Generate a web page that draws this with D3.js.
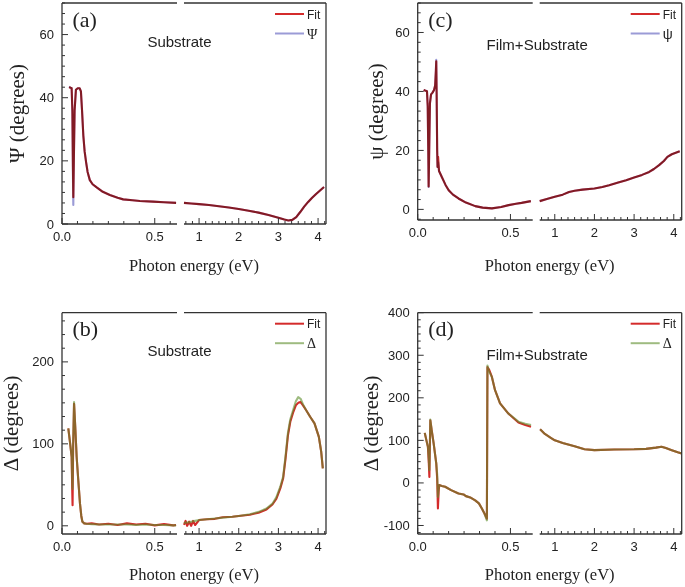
<!DOCTYPE html>
<html><head><meta charset="utf-8">
<script src="https://cdn.jsdelivr.net/npm/d3@7"></script>
<style>body{margin:0;background:#fff}svg{display:block}</style>
</head><body>
<svg id="chart" width="685" height="587"></svg>
<script>
// ---------- axis ranges / tick labels ----------
const leftRange = [0, 0.62];
const rightRange = [0.62, 4.2];
const leftMajorTicks = [0, 0.5];
const rightMajorTicks = [1, 2, 3, 4];
const psiTicks = [0, 20, 40, 60];
const deltaSubTicks = [0, 100, 200];
const deltaFilmTicks = [-100, 0, 100, 200, 300, 400];

// ---------- (a) Psi, substrate ----------
const aLeftE   = [0.038,0.045,0.052,0.056,0.059,0.061,0.064,0.068,0.075,0.085,0.095,0.102,0.108,0.115,0.122,0.13,0.138,0.15,0.165,0.187,0.22,0.258,0.3,0.33,0.38,0.42,0.49,0.55,0.615];
const aLeftPsi = [43.5,43.2,43.0,35,15,6,20,36,42.5,43,43,42,36,28,23,19.5,16.5,13.9,12.6,11.6,10.2,9.2,8.3,7.8,7.5,7.3,7.1,6.9,6.7];
const aLeftFit = [43.3,43.2,43.0,36,18,8.5,21,36,42.5,43,43,42,36,28,23,19.5,16.5,13.9,12.6,11.6,10.2,9.2,8.3,7.8,7.5,7.3,7.1,6.9,6.7];
const aRightE   = [0.62,0.8,1.0,1.25,1.5,1.75,2.0,2.25,2.5,2.75,3.0,3.15,3.25,3.35,3.45,3.55,3.65,3.75,3.85,3.95,4.05,4.15];
const aRightPsi = [6.7,6.5,6.3,6.0,5.6,5.2,4.75,4.2,3.6,2.85,2.0,1.4,1.1,1.3,2.2,3.8,5.5,7.0,8.3,9.5,10.6,11.7];
const aRightFit = [6.7,6.5,6.3,6.0,5.6,5.2,4.75,4.2,3.6,2.85,2.0,1.4,1.1,1.3,2.2,3.8,5.5,7.0,8.3,9.5,10.6,11.7];

// ---------- (c) psi, film + substrate ----------
const cLeftE   = [0.032,0.04,0.05,0.054,0.057,0.059,0.062,0.066,0.072,0.08,0.088,0.094,0.098,0.1,0.102,0.105,0.107,0.11,0.115,0.13,0.15,0.167,0.19,0.22,0.26,0.31,0.35,0.4,0.45,0.49,0.53,0.56,0.61];
const cLeftPsi = [40.5,40.3,40.1,35,20,7.6,20,36,39,39.6,40.5,42,47,50.7,40,20,14.4,16,13,11,8.3,6.5,5,3.7,2.3,1.1,0.6,0.35,0.8,1.45,1.9,2.2,2.8];
const cLeftFit = [40.5,40.3,40.1,35,20,7.8,20,36,39,39.6,40.5,42,47,50.2,40,20,14.4,17.8,13,11,8.3,6.5,5,3.7,2.3,1.1,0.6,0.35,0.8,1.45,1.9,2.2,2.8];
const cRightE   = [0.62,0.8,1.0,1.2,1.36,1.5,1.7,2.0,2.2,2.37,2.6,2.8,3.0,3.2,3.38,3.5,3.63,3.75,3.84,3.95,4.05,4.15];
const cRightPsi = [2.8,3.5,4.3,5.0,5.9,6.3,6.7,7.1,7.6,8.2,9.1,9.9,10.8,11.7,12.7,13.7,15.0,16.4,17.8,18.7,19.2,19.7];
const cRightFit = [2.8,3.5,4.3,5.0,5.9,6.3,6.7,7.1,7.6,8.2,9.1,9.9,10.8,11.7,12.7,13.7,15.0,16.4,17.8,18.7,19.2,19.7];

// ---------- (b) Delta, substrate ----------
const bLeftE     = [0.034,0.043,0.052,0.055,0.057,0.06,0.065,0.072,0.079,0.088,0.097,0.104,0.11,0.12,0.133,0.16,0.2,0.25,0.3,0.35,0.4,0.45,0.5,0.55,0.6,0.615];
const bLeftDelta = [118.8,102,84,55,45,100,151,118,84,55,27,12,5,3,2.5,2,1.5,1.5,1.5,1.5,1,1.5,1,1,0.5,0.5];
const bLeftFit   = [118.8,102,84,45,25,95,149,118,84,55,27,12,5,3,2.5,3,1.5,2.5,1,3,1.5,2.5,0.5,2,0.5,1];
const bRightE     = [0.62,0.66,0.7,0.75,0.8,0.85,0.9,1.0,1.2,1.4,1.6,1.84,2.0,2.28,2.5,2.7,2.85,2.95,3.05,3.12,3.18,3.24,3.3,3.37,3.44,3.5,3.56,3.62,3.7,3.8,3.91,4.02,4.08,4.12];
const bRightDelta = [3,4,4,4.5,5,5.5,6,7,8,9,10,11,12,14,17,21,27,35,48,60,85,113,130,141,152,157,155,148,141,133,125,108.5,90,70];
const bRightFit   = [1,6,0,5,0,6,1,7,8,8.5,10.5,11,12,13.5,16,20,26,33,46,58,82,110,127,138,147,150,151,147,141,133,125,108.5,90,70];

// ---------- (d) Delta, film + substrate ----------
const dLeftE     = [0.038,0.047,0.055,0.06,0.063,0.066,0.068,0.075,0.086,0.1,0.105,0.109,0.113,0.116,0.13,0.148,0.18,0.22,0.247,0.26,0.283,0.31,0.33,0.346,0.36,0.373,0.376,0.385,0.4,0.417,0.444,0.489,0.543,0.58,0.611];
const dLeftDelta = [117.6,100,85,55,30,100,149,125,93,46,20,-33,-15,-5,-7,-9,-17,-25,-27,-31,-34,-41,-48,-60,-72,-88,276,262,249,218,187,163,144,139,136];
const dLeftFit   = [117.6,100,85,45,14,95,147,125,93,46,10,-60,-20,-5,-7,-9,-17,-25,-27,-31,-34,-41,-48,-60,-72,-84,272,266,249,218,187,163,142,136,132];
const dRightE     = [0.63,0.75,0.9,1.0,1.2,1.5,1.75,2.0,2.5,3.0,3.3,3.55,3.69,3.8,3.95,4.1,4.2];
const dRightDelta = [126,115,106,100,94,86,79,77,78.5,79,80,83,85,82,77,72,69];
const dRightFit   = [126,115,106,100,94,86,79,77,78.5,79,80,83,85,82,77,72,69];

// ---------- styles ----------
const SERIF = '"Liberation Serif","Times New Roman",Times,serif';
const SANS = '"Liberation Sans",Arial,Helvetica,sans-serif';
const FIT_COLOR = "#d42b2b";
const PSI_COLOR = "#9b9bd6";
const DELTA_COLOR = "#5e8e2c";
const AXIS_COLOR = "#333";

const panels = [
  {label:"(a)", title:"Substrate", yLabel:"\u03A8 (degrees)", legend:"\u03A8", kind:"psi",
   x0:62, top:3, bottom:224, yDomain:[0,70], yTicks:psiTicks, yStep:20, yLabelX:17.5, xLabelY:271,
   left:[aLeftE,aLeftPsi,aLeftFit], right:[aRightE,aRightPsi,aRightFit]},
  {label:"(c)", title:"Film+Substrate", yLabel:"\u03C8 (degrees)", legend:"\u03C8", kind:"psi",
   x0:417.7, top:3, bottom:220, yDomain:[-3.6,70], yTicks:psiTicks, yStep:20, yLabelX:377, xLabelY:271,
   left:[cLeftE,cLeftPsi,cLeftFit], right:[cRightE,cRightPsi,cRightFit]},
  {label:"(b)", title:"Substrate", yLabel:"\u0394 (degrees)", legend:"\u0394", kind:"delta",
   x0:62, top:312.7, bottom:534, yDomain:[-10,260], yTicks:deltaSubTicks, yStep:100, yLabelX:12, xLabelY:579.5,
   left:[bLeftE,bLeftDelta,bLeftFit], right:[bRightE,bRightDelta,bRightFit]},
  {label:"(d)", title:"Film+Substrate", yLabel:"\u0394 (degrees)", legend:"\u0394", kind:"delta",
   x0:417.7, top:312.7, bottom:534, yDomain:[-120,400], yTicks:deltaFilmTicks, yStep:100, yLabelX:372, xLabelY:579.5,
   left:[dLeftE,dLeftDelta,dLeftFit], right:[dRightE,dRightDelta,dRightFit]}
];

const svg = d3.select("#chart");

function drawPanel(p) {
  const g = svg.append("g");
  const xL = d3.scaleLinear().domain(leftRange).range([p.x0, p.x0 + 115]);
  const xR = d3.scaleLinear().domain(rightRange).range([p.x0 + 122, p.x0 + 264]);
  const y = d3.scaleLinear().domain(p.yDomain).range([p.bottom, p.top]);
  const xLeftEnd = xL(leftRange[1]), xRightStart = xR(rightRange[0]), xRight = xR(rightRange[1]);

  // curves
  const dataStyle = p.kind === "psi"
    ? {color: PSI_COLOR, opacity: 1, blend: "multiply"}
    : {color: DELTA_COLOR, opacity: 0.6, blend: "normal"};
  [[p.left, xL], [p.right, xR]].forEach(([seg, xs]) => {
    const [E, data, fit] = seg;
    const line = d3.line().x((d, i) => xs(E[i])).y(d => y(d));
    g.append("path").attr("d", line(fit)).attr("fill", "none")
      .attr("stroke", FIT_COLOR).attr("stroke-width", 2.1).attr("stroke-linejoin", "round");
    g.append("path").attr("d", line(data)).attr("fill", "none")
      .attr("stroke", dataStyle.color).attr("stroke-width", 2.1).attr("stroke-linejoin", "round")
      .attr("stroke-opacity", dataStyle.opacity).style("mix-blend-mode", dataStyle.blend);
  });

  // frame
  const fr = g.append("g").attr("stroke", AXIS_COLOR).attr("stroke-width", 1.3).attr("fill", "none");
  fr.append("line").attr("x1", p.x0).attr("x2", p.x0).attr("y1", p.top).attr("y2", p.bottom);
  fr.append("line").attr("x1", xRight).attr("x2", xRight).attr("y1", p.top).attr("y2", p.bottom);
  [p.top, p.bottom].forEach(yy => {
    fr.append("line").attr("x1", p.x0).attr("x2", xLeftEnd).attr("y1", yy).attr("y2", yy);
    fr.append("line").attr("x1", xRightStart).attr("x2", xRight).attr("y1", yy).attr("y2", yy);
  });

  // x ticks (inside)
  const tk = g.append("g").attr("stroke", AXIS_COLOR).attr("stroke-width", 1);
  const leftMinor = d3.range(1, 8).map(i => i / 12).filter(v => Math.abs(v - 0.5) > 1e-6);
  const rightMinor = d3.range(4, 26).map(i => i / 6).filter(v => Math.abs(v - Math.round(v)) > 1e-6 && v > rightRange[0] && v < rightRange[1]);
  const xTick = (x, len) => tk.append("line").attr("x1", x).attr("x2", x).attr("y1", p.bottom).attr("y2", p.bottom - len);
  leftMajorTicks.forEach(v => xTick(xL(v), 6));
  leftMinor.forEach(v => xTick(xL(v), 3));
  rightMajorTicks.forEach(v => xTick(xR(v), 6));
  rightMinor.forEach(v => xTick(xR(v), 3));

  const tl = g.append("g").attr("font-family", SANS).attr("font-size", 13).attr("fill", "#222");
  leftMajorTicks.forEach(v => tl.append("text").attr("x", xL(v)).attr("y", p.bottom + 17)
    .attr("text-anchor", "middle").text(d3.format(".1f")(v)));
  rightMajorTicks.forEach(v => tl.append("text").attr("x", xR(v)).attr("y", p.bottom + 17)
    .attr("text-anchor", "middle").text(v));

  // y ticks (inside)
  const yMinorStep = p.yStep / 6;
  const yMinor = d3.range(Math.ceil(p.yDomain[0] / yMinorStep), Math.floor(p.yDomain[1] / yMinorStep) + 1)
    .map(i => i * yMinorStep).filter(v => Math.abs(v / p.yStep - Math.round(v / p.yStep)) > 1e-6);
  const yTick = (v, len) => tk.append("line").attr("x1", p.x0).attr("x2", p.x0 + len).attr("y1", y(v)).attr("y2", y(v));
  p.yTicks.forEach(v => yTick(v, 6));
  yMinor.forEach(v => yTick(v, 3));
  p.yTicks.forEach(v => tl.append("text").attr("x", p.x0 - 8).attr("y", y(v)).attr("dy", "0.35em")
    .attr("text-anchor", "end").text(v));

  // axis titles
  g.append("text").attr("x", p.x0 + 132).attr("y", p.xLabelY).attr("text-anchor", "middle")
    .attr("font-family", SERIF).attr("font-size", 16.5).attr("fill", "#222").text("Photon energy (eV)");
  const cy = (p.top + p.bottom) / 2;
  g.append("text").attr("transform", `translate(${p.yLabelX},${cy}) rotate(-90)`).attr("dy", "0.3em")
    .attr("text-anchor", "middle").attr("font-family", SERIF).attr("font-size", 21).attr("fill", "#222").text(p.yLabel);

  // panel letter + title
  g.append("text").attr("x", p.x0 + 10.5).attr("y", p.top + 23.5).attr("font-family", SERIF)
    .attr("font-size", 22).attr("fill", "#222").text(p.label);
  g.append("text").attr("x", p.x0 + (p.title === "Substrate" ? 117.5 : 119.5)).attr("y", p.top + (p.title === "Substrate" ? 43.5 : 47))
    .attr("text-anchor", "middle").attr("font-family", SANS).attr("font-size", 15).attr("fill", "#222").text(p.title);

  // legend
  const lg = g.append("g");
  const lx1 = xRight - 51, lx2 = xRight - 22;
  lg.append("line").attr("x1", lx1).attr("x2", lx2).attr("y1", p.top + 11).attr("y2", p.top + 11)
    .attr("stroke", FIT_COLOR).attr("stroke-width", 2);
  lg.append("line").attr("x1", lx1).attr("x2", lx2).attr("y1", p.top + 30.5).attr("y2", p.top + 30.5)
    .attr("stroke", dataStyle.color).attr("stroke-opacity", dataStyle.opacity).attr("stroke-width", 2);
  lg.append("text").attr("x", xRight - 19).attr("y", p.top + 15.5).attr("font-family", SANS)
    .attr("font-size", 12).attr("fill", "#222").text("Fit");
  lg.append("text").attr("x", xRight - 19).attr("y", p.top + 35.5).attr("font-family", p.legend === "\u03C8" ? SANS : SERIF)
    .attr("font-size", 14).attr("fill", "#222").text(p.legend);
}

panels.forEach(drawPanel);
</script>
</body></html>
